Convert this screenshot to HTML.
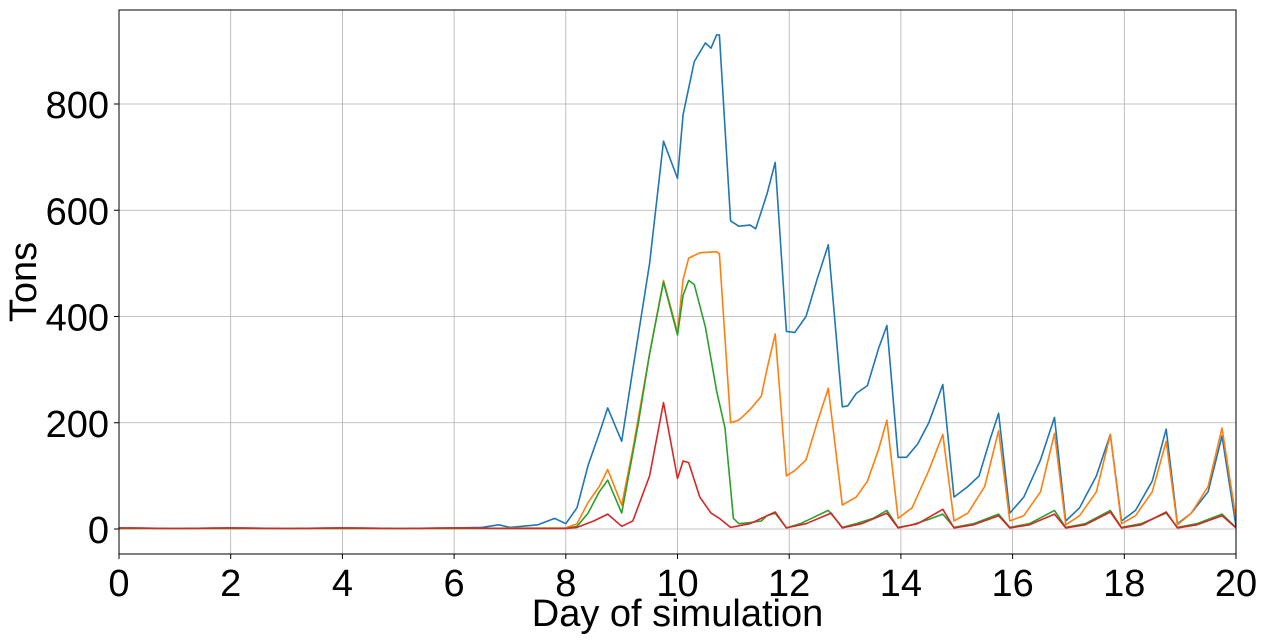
<!DOCTYPE html>
<html><head><meta charset="utf-8"><style>
body{margin:0;background:#fff;}
svg{display:block;font-family:"Liberation Sans","DejaVu Sans",sans-serif;}
</style></head><body>
<svg id="chart" width="1264" height="640" viewBox="0 0 1264 640"></svg>
<script>
const xTicks=[0,2,4,6,8,10,12,14,16,18,20];
const yTicks=[0,200,400,600,800];
const seriesNames=["blue","orange","green","red"];
const seriesColors=["#1f77b4","#ff7f0e","#2ca02c","#d62728"];
const blueDays=[0,1,2,3,4,5,6,6.5,6.8,7,7.5,7.8,8.0,8.2,8.4,8.6,8.75,9.0,9.2,9.5,9.75,10.0,10.1,10.3,10.5,10.6,10.7,10.75,10.95,11.1,11.3,11.4,11.6,11.75,11.95,12.1,12.3,12.5,12.7,12.95,13.05,13.2,13.4,13.6,13.75,13.95,14.1,14.3,14.5,14.75,14.95,15.2,15.4,15.6,15.75,15.95,16.2,16.5,16.75,16.95,17.2,17.5,17.75,17.95,18.2,18.5,18.75,18.95,19.2,19.5,19.75,20];
const blueVals=[2,1,2,1,2,1,2,3,8,3,8,20,10,40,120,180,228,165,300,500,730,660,780,880,915,905,930,930,580,570,572,565,630,690,372,370,400,470,535,230,232,255,270,340,383,135,135,160,200,272,60,80,100,170,218,30,60,130,210,15,40,100,178,15,35,90,188,10,30,70,175,5];
const orangeDays=[0,2,4,6,8,8.2,8.4,8.6,8.75,9.0,9.2,9.5,9.75,10.0,10.1,10.2,10.4,10.7,10.75,10.95,11.1,11.3,11.5,11.6,11.75,11.95,12.1,12.3,12.5,12.7,12.95,13.2,13.4,13.6,13.75,13.95,14.2,14.5,14.75,14.95,15.2,15.5,15.75,15.95,16.2,16.5,16.75,16.95,17.2,17.5,17.75,17.95,18.2,18.5,18.75,18.95,19.2,19.5,19.75,20];
const orangeVals=[1,1,1,1,2,10,50,80,112,45,150,330,468,370,470,510,520,522,518,200,205,225,250,300,367,100,110,130,200,265,45,60,90,150,205,20,40,110,178,15,30,80,185,15,25,70,180,8,25,70,178,10,25,70,165,8,30,80,190,20];
const greenDays=[0,2,4,6,8,8.2,8.4,8.6,8.75,9.0,9.3,9.5,9.75,10.0,10.1,10.2,10.3,10.5,10.7,10.85,11.0,11.1,11.3,11.5,11.6,11.75,11.95,12.2,12.5,12.7,12.95,13.2,13.5,13.75,13.95,14.2,14.5,14.75,14.95,15.3,15.75,15.95,16.3,16.75,16.95,17.3,17.75,17.95,18.3,18.75,18.95,19.3,19.75,20];
const greenVals=[1,1,1,1,1,5,30,70,92,30,200,330,465,365,440,468,460,380,260,190,20,10,12,15,25,30,2,10,25,35,3,10,20,35,3,8,18,28,3,10,28,3,10,35,3,10,35,3,10,30,3,10,28,3];
const redDays=[0,1,2,3,4,5,6,7,8,8.2,8.5,8.75,9.0,9.2,9.5,9.75,10.0,10.1,10.2,10.4,10.6,10.75,10.95,11.3,11.5,11.75,11.95,12.3,12.75,12.95,13.3,13.75,13.95,14.3,14.75,14.95,15.3,15.75,15.95,16.3,16.75,16.95,17.3,17.75,17.95,18.3,18.75,18.95,19.3,19.75,20];
const redVals=[2,1,2,1,2,1,2,1,1,3,15,28,5,15,100,238,95,128,125,60,30,20,3,10,20,32,2,10,30,2,10,30,2,10,37,2,8,25,2,8,28,2,8,32,2,8,32,2,8,25,2];

const NS="http://www.w3.org/2000/svg";
const svg=document.getElementById('chart');
const X0=119,X1=1236,Y0=10,Y1=554;
const xs=d=>X0+(d/20)*(X1-X0);
const ys=v=>529-v*0.53125;
function mk(t,a,p){const e=document.createElementNS(NS,t);for(const k in a)e.setAttribute(k,a[k]);(p||svg).appendChild(e);return e;}
const grid=mk('g',{});


xTicks.forEach(t=>{
  const l=mk('line',{x1:xs(t),x2:xs(t),y1:Y0,y2:Y1,stroke:'#b0b0b0','stroke-width':0.8},grid);
  
  
  const tk=mk('line',{x1:xs(t),x2:xs(t),y1:Y1,y2:Y1+5,stroke:'#000'});
  
  
  const tx=mk('text',{x:xs(t),y:596,'font-size':38,'text-anchor':'middle'});
  tx.textContent=t;
  
  
});
yTicks.forEach(t=>{
  const l=mk('line',{x1:X0,x2:X1,y1:ys(t),y2:ys(t),stroke:'#b0b0b0','stroke-width':0.8},grid);
  
  
  const tk=mk('line',{x1:X0-5,x2:X0,y1:ys(t),y2:ys(t),stroke:'#000'});
  
  
  const tx=mk('text',{x:X0-10,y:ys(t)+14,'font-size':38,'text-anchor':'end'});
  tx.textContent=t;
  
  
});
const allDays=[blueDays,orangeDays,greenDays,redDays];
const allVals=[blueVals,orangeVals,greenVals,redVals];
allDays.forEach((ds,i)=>{
  const pts=ds.map((d,j)=>xs(d).toFixed(1)+','+ys(allVals[i][j]).toFixed(1)).join(' ');
  const p=mk('polyline',{points:pts,fill:'none',stroke:seriesColors[i],'stroke-width':1.6,'stroke-linejoin':'round'});
  
  
});
const fr=mk('rect',{x:X0,y:Y0,width:X1-X0,height:Y1-Y0,fill:'none',stroke:'#000','stroke-width':1});


const xt=mk('text',{x:(X0+X1)/2,y:626,'font-size':38,'text-anchor':'middle'});
xt.textContent='Day of simulation';


const yt=mk('text',{x:36,y:282,'font-size':38,'text-anchor':'middle',transform:'rotate(-90 36 282)'});
yt.textContent='Tons';


</script>
</body></html>
